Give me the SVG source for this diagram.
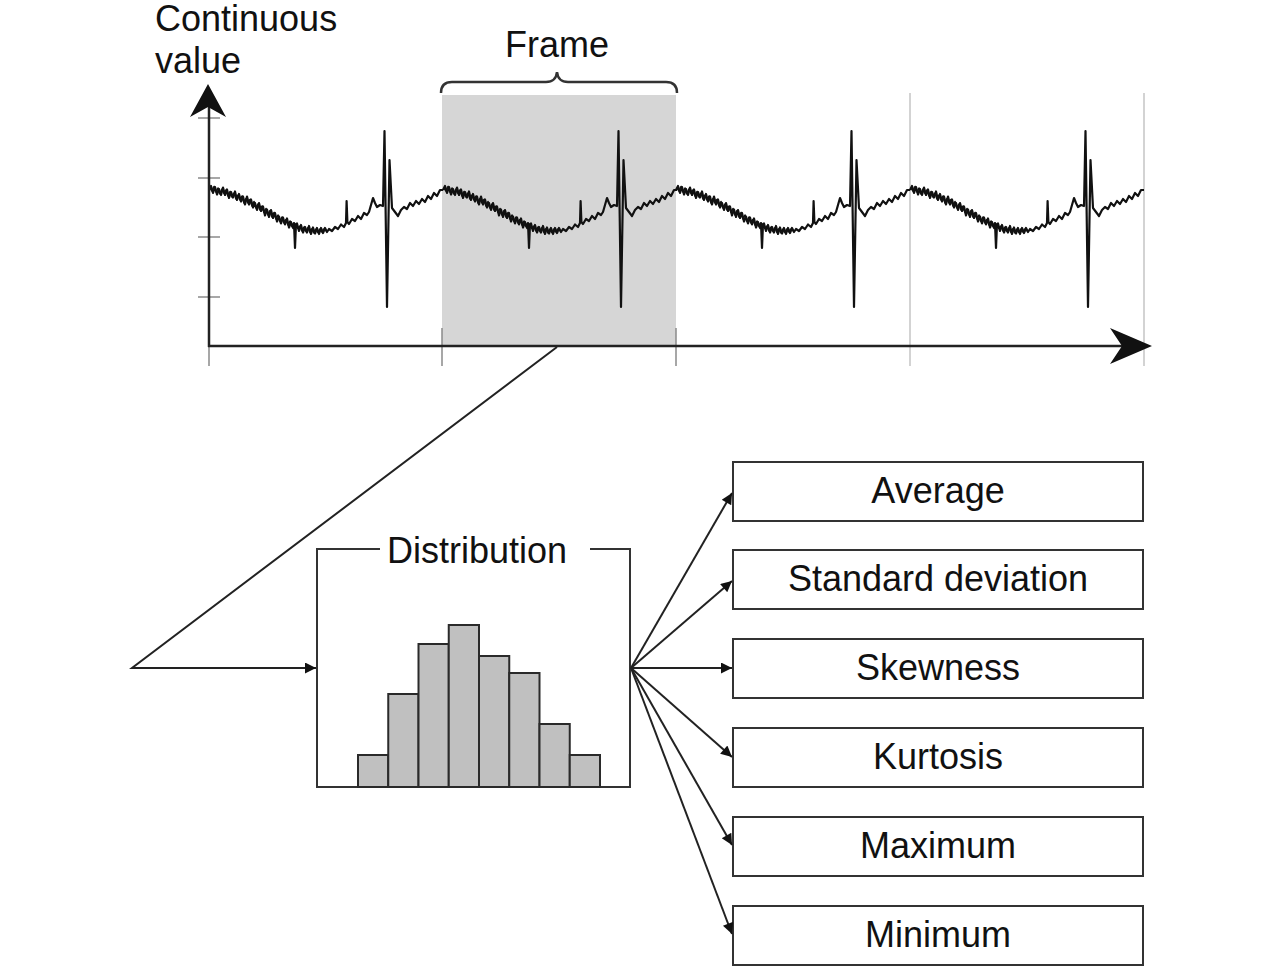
<svg xmlns="http://www.w3.org/2000/svg" xmlns:xlink="http://www.w3.org/1999/xlink" width="1284" height="972" viewBox="0 0 1284 972">
<style>
.t{font-family:"Liberation Sans",Arial,sans-serif;font-size:36px;fill:#111}
.box{fill:#fff;stroke:#333;stroke-width:2}
.bar{fill:#c0c0c0;stroke:#2a2a2a;stroke-width:2}
.con{fill:none;stroke:#222;stroke-width:2}
.grid{stroke:#c4c4c4;stroke-width:1.5}
.tick{stroke:#8a8a8a;stroke-width:1.5}
.sig{fill:none;stroke:#111;stroke-width:2.2;stroke-linejoin:round}
.nz{fill:none;stroke:#111;stroke-width:1.6;stroke-linejoin:round}
</style>
<defs>
<marker id="ah" viewBox="0 0 10 10" refX="10" refY="5" markerUnits="userSpaceOnUse" markerWidth="16" markerHeight="11" orient="auto">
<path d="M0,0 L10,5 L0,10 z" fill="#111"/>
</marker>
<g id="beat">
<path class="sig" d="M0,190 L2,186 4,193 6,187 8,194.5 10,189 12,195 14,187.5 16,195 18,189.5 20,198 22,192 24,197.5 26,191.5 28,200 30,194 32,201.5 34,196.5 36,204.5 38,196.5 40,204.5 42,199.5 44,207.5 46,203 48,210 50,203 52,211 54,206.5 56,215.5 58,209.5 60,217 62,210 64,218 66,213 68,221.5 70,216.5 72,223.5 74,217.5 76,224.5 78,218.5 80,227.5 82,222 84,228 85,223 86,248 87,224 88,223.5 90,231 92,225 94,232.5 96,227 98,232.5 100,226 102,234 104,227.5 106,233.5 108,228 110,234 112,228 114,233 116,228 118,232 120,229 123,231 126,227 129,229 132,224.5 135,227 137,223 137.6,201 138.4,222 140,224 143,219 146,221 149,216 152,219 155,213 158,215 160,212 162,205 164,198 166,203 168,207 171,205 174,206 175.5,131 178,307 180.5,160 183,208 186,212 189,216 192,210 195,207 198,209 201,203 204,206 207,201 210,204 213,199 216,202 219,196 222,199 225,193 228,196 231,190 234,190"/>
<path class="nz" d="M1,188 L3,191 5,186.5 7,192 9,188 11,194 13,189 15,193.5 17,190 19,196 21,191.5 23,197 25,193 27,199 29,195 31,200 33,196 35,203 37,198.5 39,203 41,199.5 43,206 45,201.5 47,208 49,204 51,210 53,206 55,212.5 57,208.5 59,215 61,210.5 63,217 65,212.5 67,219 69,215 71,221.5 73,217 75,223 77,219.5 79,225 81,221 83,226.5 85,223 M87,225 L89,228.5 91,226 93,231 95,227 97,231.5 99,227.5 101,232.5 103,228.5 105,233 107,229 109,232.5 111,229 113,232 115,229 117,231"/>
</g>
</defs>
<rect width="1284" height="972" fill="#fff"/>

<g id="chart">
<rect x="442" y="95" width="234" height="251" fill="#d6d6d6"/>
<line class="grid" x1="910" y1="93" x2="910" y2="366"/>
<line class="grid" x1="1144" y1="93" x2="1144" y2="366"/>
<line class="tick" x1="209" y1="346" x2="209" y2="366"/>
<line class="tick" x1="442" y1="328" x2="442" y2="366"/>
<line class="tick" x1="676" y1="328" x2="676" y2="366"/>
<line class="tick" x1="198" y1="118" x2="220" y2="118"/>
<line class="tick" x1="198" y1="178" x2="220" y2="178"/>
<line class="tick" x1="198" y1="237" x2="220" y2="237"/>
<line class="tick" x1="198" y1="297" x2="220" y2="297"/>
<use xlink:href="#beat" x="209"/>
<use xlink:href="#beat" x="443"/>
<use xlink:href="#beat" x="676"/>
<use xlink:href="#beat" x="910"/>
<line x1="209" y1="347" x2="209" y2="105" stroke="#222" stroke-width="2.5"/>
<line x1="208" y1="346" x2="1130" y2="346" stroke="#222" stroke-width="2.5"/>
<polygon points="208,84 226,117 208,107 190,117" fill="#111"/>
<polygon points="1152,346 1110,328 1122,346 1110,364" fill="#111"/>
<text class="t" x="155" y="31">Continuous</text>
<text class="t" x="155" y="73">value</text>
</g>

<g id="frame">
<path d="M441,93 Q441,82 452,82 L546,82 Q556,82 557,72 Q558,82 568,82 L666,82 Q677,82 677,93" fill="none" stroke="#333" stroke-width="2.5"/>
<text class="t" x="557" y="57" text-anchor="middle">Frame</text>
</g>

<g id="distribution">
<path d="M380,549 L317,549 L317,787 L630,787 L630,549 L590,549" fill="none" stroke="#333" stroke-width="2"/>
<text class="t" x="477" y="563" text-anchor="middle">Distribution</text>
<rect class="bar" x="358" y="755" width="30.25" height="32"/>
<rect class="bar" x="388.25" y="694" width="30.25" height="93"/>
<rect class="bar" x="418.5" y="644" width="30.25" height="143"/>
<rect class="bar" x="448.75" y="625" width="30.25" height="162"/>
<rect class="bar" x="479" y="656" width="30.25" height="131"/>
<rect class="bar" x="509.25" y="673" width="30.25" height="114"/>
<rect class="bar" x="539.5" y="724" width="30.25" height="63"/>
<rect class="bar" x="569.75" y="755" width="30.25" height="32"/>
</g>

<g id="n-average"><rect class="box" x="733" y="462" width="410" height="59"/><text class="t" x="938" y="503" text-anchor="middle">Average</text></g>
<g id="n-std"><rect class="box" x="733" y="550" width="410" height="59"/><text class="t" x="938" y="591" text-anchor="middle">Standard deviation</text></g>
<g id="n-skew"><rect class="box" x="733" y="639" width="410" height="59"/><text class="t" x="938" y="680" text-anchor="middle">Skewness</text></g>
<g id="n-kurt"><rect class="box" x="733" y="728" width="410" height="59"/><text class="t" x="938" y="769" text-anchor="middle">Kurtosis</text></g>
<g id="n-max"><rect class="box" x="733" y="817" width="410" height="59"/><text class="t" x="938" y="858" text-anchor="middle">Maximum</text></g>
<g id="n-min"><rect class="box" x="733" y="906" width="410" height="59"/><text class="t" x="938" y="947" text-anchor="middle">Minimum</text></g>

<g id="connectors">
<polyline class="con" points="557,347 132,668 316,668" marker-end="url(#ah)"/>
<line class="con" x1="631" y1="668" x2="732" y2="493" marker-end="url(#ah)"/>
<line class="con" x1="631" y1="668" x2="732" y2="581" marker-end="url(#ah)"/>
<line class="con" x1="631" y1="668" x2="732" y2="668" marker-end="url(#ah)"/>
<line class="con" x1="631" y1="668" x2="732" y2="757" marker-end="url(#ah)"/>
<line class="con" x1="631" y1="668" x2="732" y2="845" marker-end="url(#ah)"/>
<line class="con" x1="631" y1="668" x2="732" y2="934" marker-end="url(#ah)"/>
</g>
</svg>
